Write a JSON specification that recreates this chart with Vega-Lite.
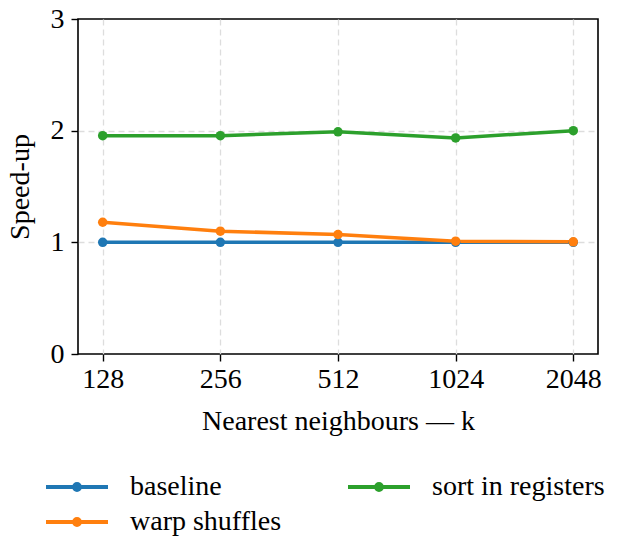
{
  "$schema": "https://vega.github.io/schema/vega-lite/v6.json",
  "width": 520,
  "height": 335,
  "autosize": {"type": "none"},
  "padding": {"left": 78, "top": 19, "right": 32, "bottom": 186},
  "background": "white",
  "config": {
    "font": "Liberation Serif",
    "view": {"stroke": "black", "strokeWidth": 1.6},
    "axis": {
      "labelFont": "Liberation Serif",
      "titleFont": "Liberation Serif",
      "labelFontSize": 28,
      "titleFontSize": 28,
      "titleFontWeight": "normal",
      "labelColor": "black",
      "titleColor": "black",
      "domain": false,
      "tickColor": "black",
      "tickSize": 7,
      "tickWidth": 1.4,
      "grid": true,
      "gridColor": "#dddddd",
      "gridDash": [6, 4],
      "gridWidth": 1.3
    },
    "legend": {
      "labelFont": "Liberation Serif",
      "labelFontSize": 28,
      "labelColor": "black",
      "labelLimit": 400
    }
  },
  "data": {
    "values": [
      {"k": 128, "method": "baseline", "speedup": 1.0},
      {"k": 256, "method": "baseline", "speedup": 1.0},
      {"k": 512, "method": "baseline", "speedup": 1.0},
      {"k": 1024, "method": "baseline", "speedup": 1.0},
      {"k": 2048, "method": "baseline", "speedup": 1.0},
      {"k": 128, "method": "warp shuffles", "speedup": 1.18},
      {"k": 256, "method": "warp shuffles", "speedup": 1.10},
      {"k": 512, "method": "warp shuffles", "speedup": 1.07},
      {"k": 1024, "method": "warp shuffles", "speedup": 1.01},
      {"k": 2048, "method": "warp shuffles", "speedup": 1.005},
      {"k": 128, "method": "sort in registers", "speedup": 1.955},
      {"k": 256, "method": "sort in registers", "speedup": 1.955},
      {"k": 512, "method": "sort in registers", "speedup": 1.99},
      {"k": 1024, "method": "sort in registers", "speedup": 1.935},
      {"k": 2048, "method": "sort in registers", "speedup": 2.0}
    ]
  },
  "encoding": {
    "x": {
      "field": "k",
      "type": "ordinal",
      "sort": [128, 256, 512, 1024, 2048],
      "scale": {"type": "point", "padding": 0.21},
      "axis": {"labelAngle": 0, "title": "Nearest neighbours — k", "labelPadding": 4, "titlePadding": 14}
    },
    "y": {
      "field": "speedup",
      "type": "quantitative",
      "scale": {"domain": [0, 3], "nice": false},
      "axis": {
        "values": [0, 1, 2, 3],
        "title": "Speed-up",
        "labelPadding": 7,
        "titlePadding": 16,
        "gridOpacity": {"condition": {"test": "datum.value == 0 || datum.value == 3", "value": 0}, "value": 1}
      }
    },
    "color": {
      "field": "method",
      "type": "nominal",
      "scale": {
        "domain": ["baseline", "warp shuffles", "sort in registers"],
        "range": ["#1f77b4", "#ff7f0e", "#2ca02c"]
      },
      "legend": {
        "title": null,
        "orient": "none",
        "legendX": -15,
        "legendY": 454,
        "columns": 2,
        "columnPadding": 58,
        "rowPadding": 7,
        "labelOffset": 39,
        "symbolType": "M-3.1,0H3.1M0.3,0A0.3,0.3,0,1,1,-0.3,0A0.3,0.3,0,1,1,0.3,0",
        "symbolSize": 400,
        "symbolStrokeWidth": 3.8,
        "symbolFillColor": "transparent"
      }
    }
  },
  "layer": [
    {"mark": {"type": "line", "strokeWidth": 3.5}},
    {"mark": {"type": "point", "filled": true, "opacity": 1, "size": 90}}
  ]
}
